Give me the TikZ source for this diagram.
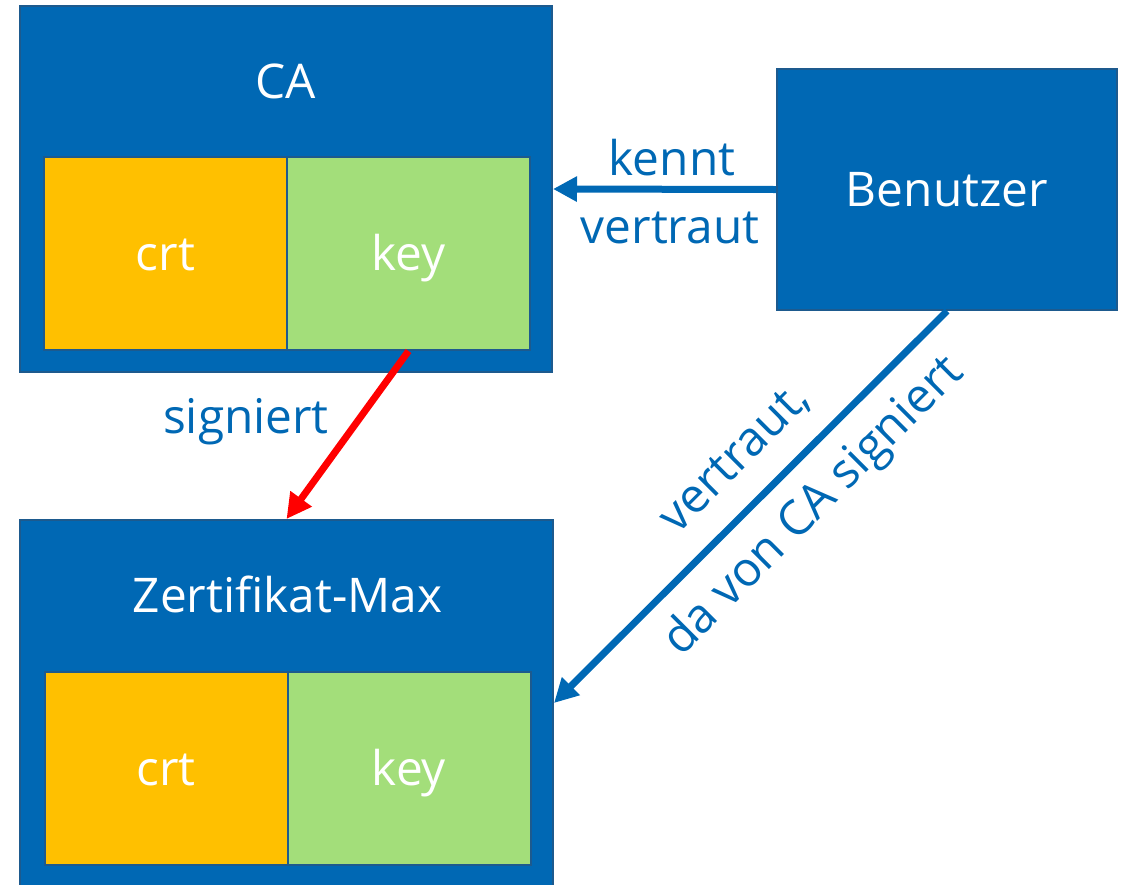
\documentclass[tikz,border=0pt]{standalone}
\usepackage{fontspec}
\setmainfont{Open Sans}
\usetikzlibrary{arrows.meta}
\definecolor{bblue}{HTML}{0068B4}
\definecolor{bedge}{HTML}{1D5A8E}
\definecolor{corange}{HTML}{FFC000}
\definecolor{cgreen}{HTML}{A3DE7A}
\definecolor{cred}{HTML}{FF0000}
\begin{document}
\begin{tikzpicture}[x=1pt,y=1pt,
  big/.style={rectangle, draw=bedge, line width=2pt, fill=bblue, inner sep=0pt},
  cell/.style={rectangle, draw=bedge, line width=2pt, inner sep=0pt, minimum width=243pt, minimum height=193pt},
  wtext/.style={text=white, font=\fontsize{47.8}{56}\selectfont, anchor=base, inner sep=0pt},
  btext/.style={text=bblue, font=\fontsize{47.8}{56}\selectfont, anchor=base, inner sep=0pt},
  barrow/.style={draw=bblue, line width=7pt, -{Triangle[length=24pt,width=24pt]}},
  rarrow/.style={draw=cred, line width=7pt, -{Triangle[length=25pt,width=25pt]}}]
\useasboundingbox (0,0) rectangle (1123,-884);
% CA
\node[big, minimum width=532pt, minimum height=366pt] (CA) at (286,-189) {};
\node[cell, fill=corange] (crtCA) at (165.5,-253.5) {};
\node[cell, fill=cgreen] (keyCA) at (408.5,-253.5) {};
\node[wtext] (tCA) at (286,-98) {CA};
\node[wtext] (tcrtCA) at (165.5,-270) {crt};
\node[wtext] (tkeyCA) at (408.5,-270) {key};
% Zertifikat
\node[big, minimum width=533pt, minimum height=366pt] (Zert) at (286.5,-703) {};
\node[cell, fill=corange] (crtZ) at (166,-768.5) {};
\node[cell, fill=cgreen] (keyZ) at (409,-768.5) {};
\node[wtext] (tZ) at (287.5,-612) {Zertifikat-Max};
\node[wtext] (tcrtZ) at (166,-785) {crt};
\node[wtext] (tkeyZ) at (409,-785) {key};
% Benutzer
\node[big, minimum width=340pt, minimum height=241pt] (Ben) at (947,-189.5) {};
\node[wtext] (tBen) at (947,-206) {Benutzer};
% connectors
\draw[barrow] (Ben.west) -- (CA.east);
\draw[rarrow] (keyCA.south) -- (Zert.north);
\draw[barrow] (Ben.south) -- (Zert.east);
% labels
\node[btext] (lkennt) at (672,-175) {kennt};
\node[btext] (lvertraut) at (670,-243) {vertraut};
\node[btext] (lsign) at (246,-433) {signiert};
\node[btext, rotate=45] (ldiag1) at (745,-468) {vertraut,};
\node[btext, rotate=45] (ldiag2) at (823,-516) {da von CA signiert};
\end{tikzpicture}
\end{document}
